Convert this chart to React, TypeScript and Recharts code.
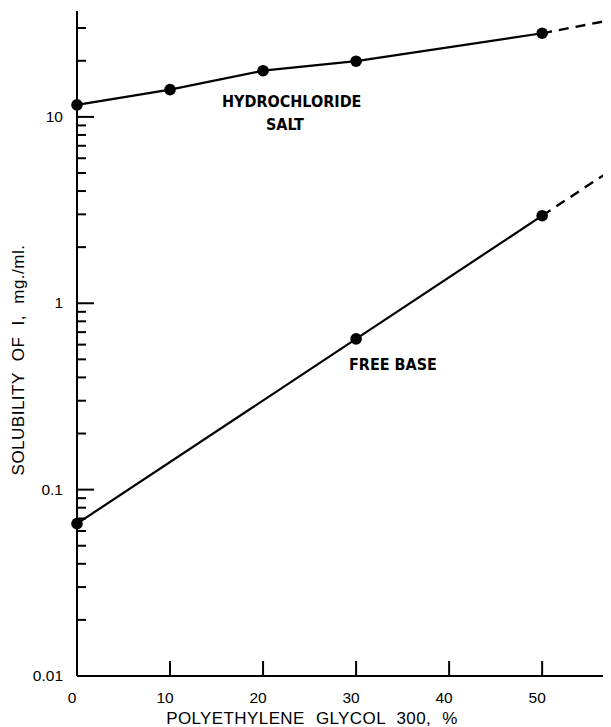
import { LineChart, Line, XAxis, YAxis } from "recharts";

// polyethylene glycol 300 (%) vs solubility of I (mg./ml.)
const hclPeg = [0, 10, 20, 30, 50];
const hclSolubility = [11.6, 14.0, 17.7, 19.9, 28.1];
const basePeg = [0, 30, 50];
const baseSolubility = [0.0657, 0.644, 2.95];
// dashed extrapolation past 50 %
const extPeg = [50, 57.4];
const hclExtSolubility = [28.1, 33.1];
const baseExtSolubility = [2.95, 5.17];

const xTicks = [0, 10, 20, 30, 40, 50];
const yMajorTicks = [0.01, 0.1, 1, 10];
const yMajorLabels = ["0.01", "0.1", "1", "10"];
const yMinorTicks = [
  0.02, 0.03, 0.04, 0.05, 0.06, 0.07, 0.08, 0.09,
  0.2, 0.3, 0.4, 0.5, 0.6, 0.7, 0.8, 0.9,
  2, 3, 4, 5, 6, 7, 8, 9,
  20, 30,
];

const toPoints = (xs: number[], ys: number[]) =>
  xs.map((x, i) => ({ x, y: ys[i] }));

const hclData = toPoints(hclPeg, hclSolubility);
const baseData = toPoints(basePeg, baseSolubility);
const hclExt = toPoints(extPeg, hclExtSolubility);
const baseExt = toPoints(extPeg, baseExtSolubility);

const font = "'Liberation Sans', Arial, sans-serif";
const boldFont = "'DejaVu Sans Condensed', 'DejaVu Sans', sans-serif";

const YTick = (props: any) => {
  const { x, y, payload } = props;
  const idx = yMajorTicks.indexOf(payload.value);
  const major = idx >= 0;
  return (
    <g>
      <line x1={x} x2={x + (major ? 17 : 9)} y1={y} y2={y} stroke="#000" strokeWidth={2} />
      {major && (
        <text x={x - 14} y={y} dy={5} textAnchor="end" fontSize={15.5} fontFamily={font} fill="#000">
          {yMajorLabels[idx]}
        </text>
      )}
    </g>
  );
};

const XTick = (props: any) => {
  const { x, y, payload } = props;
  return (
    <g>
      {payload.value !== 0 && (
        <line x1={x} x2={x} y1={y} y2={y - 15} stroke="#000" strokeWidth={2} />
      )}
      <text x={x - 5} y={y} dy={27} textAnchor="middle" fontSize={15.5} fontFamily={font} fill="#000">
        {payload.value}
      </text>
    </g>
  );
};

export default function App() {
  return (
    <div style={{ position: "relative", width: 603, height: 719 }}>
      <LineChart
        width={603}
        height={719}
        margin={{ top: 3, right: 0, left: 0, bottom: 0 }}
      >
        <XAxis
          dataKey="x"
          type="number"
          domain={[0, 57.4]}
          ticks={xTicks}
          interval={0}
          height={51}
          tickSize={0}
          tickMargin={0}
          tick={<XTick />}
          axisLine={{ stroke: "#000", strokeWidth: 2 }}
        />
        <YAxis
          dataKey="y"
          type="number"
          scale="log"
          domain={[0.01, 37]}
          ticks={[...yMajorTicks, ...yMinorTicks]}
          interval={0}
          width={69}
          tickSize={0}
          tickMargin={0}
          tick={<YTick />}
          axisLine={{ stroke: "#000", strokeWidth: 2 }}
        />
        <Line
          data={hclData}
          dataKey="y"
          type="linear"
          stroke="#000"
          strokeWidth={2.2}
          dot={{ r: 5.8, fill: "#000", stroke: "none" }}
          isAnimationActive={false}
        />
        <Line
          data={baseData}
          dataKey="y"
          type="linear"
          stroke="#000"
          strokeWidth={2.2}
          dot={{ r: 5.8, fill: "#000", stroke: "none" }}
          isAnimationActive={false}
        />
        <Line
          data={hclExt}
          dataKey="y"
          type="linear"
          stroke="#000"
          strokeWidth={2.4}
          strokeDasharray="10 7"
          dot={false}
          isAnimationActive={false}
        />
        <Line
          data={baseExt}
          dataKey="y"
          type="linear"
          stroke="#000"
          strokeWidth={2.4}
          strokeDasharray="10 7"
          dot={false}
          isAnimationActive={false}
        />
      </LineChart>
      <svg
        width={611}
        height={727}
        style={{ position: "absolute", left: -8, top: -8, pointerEvents: "none" }}
      >
        <text x={222} y={107} fontSize={16} fontWeight="bold" fontFamily={boldFont} fontStretch="condensed">
          HYDROCHLORIDE
        </text>
        <text x={266} y={130} fontSize={16} fontWeight="bold" fontFamily={boldFont} fontStretch="condensed">
          SALT
        </text>
        <text x={349} y={370} fontSize={16} fontWeight="bold" fontFamily={boldFont} fontStretch="condensed">
          FREE BASE
        </text>
        <text x={312} y={724} textAnchor="middle" fontSize={17} fontFamily={font} letterSpacing={0.4} wordSpacing={6}>
          POLYETHYLENE GLYCOL 300, %
        </text>
        <text
          x={0}
          y={0}
          transform="translate(24 360) rotate(-90)"
          textAnchor="middle"
          fontSize={17}
          fontFamily={font}
          letterSpacing={0.5}
          wordSpacing={6}
        >
          SOLUBILITY OF I, mg./ml.
        </text>
      </svg>
    </div>
  );
}
